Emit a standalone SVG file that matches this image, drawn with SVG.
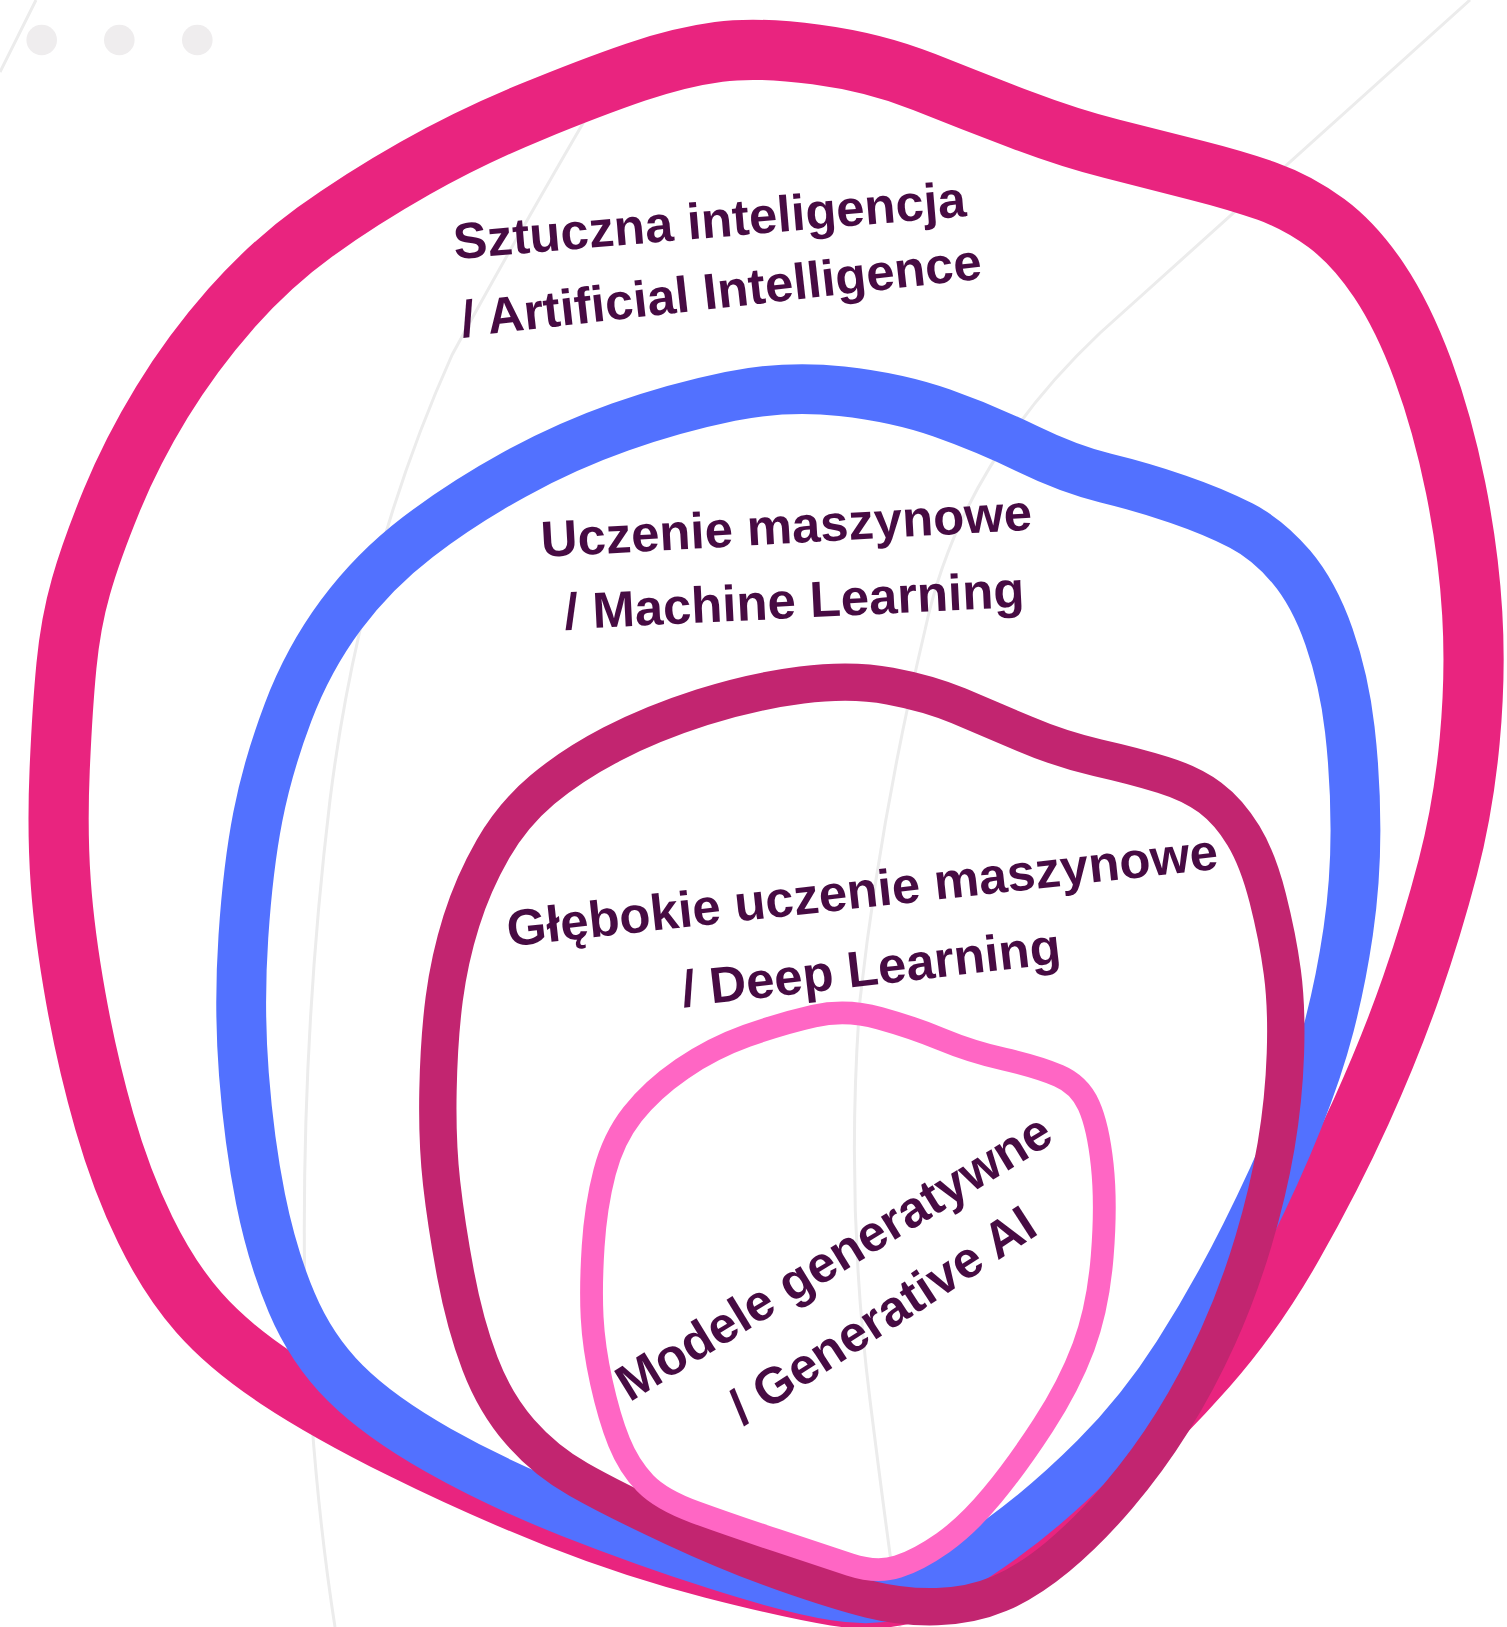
<svg xmlns="http://www.w3.org/2000/svg" width="1507" height="1627" viewBox="0 0 1507 1627">
<style>
.bg{fill:none;stroke:#ececec;stroke-width:3}
.dot{fill:#efedee}
.blob{fill:none;stroke-linejoin:round}
.ai{stroke:#e9247f;stroke-width:58}
.ml{stroke:#5271ff;stroke-width:48}
.dl{stroke:#c22570;stroke-width:36}
.gen{stroke:#ff66c4;stroke-width:22}
.lbl{font-family:"Liberation Sans",Arial,sans-serif;font-weight:700;font-size:49px;fill:#470b43;text-anchor:middle}
</style>
<rect width="1507" height="1627" fill="#ffffff"/>
<g id="background">
<path class="bg" d="M0,72 L36,0"/>
<path class="bg" d="M1470,0 L1100,333 Q960,465 925,630 Q880,820 860,1000 Q845,1200 870,1400 Q885,1520 900,1627"/>
<path class="bg" d="M620,60 Q520,230 452,355 Q360,560 330,800 Q300,1050 305,1300 Q312,1480 335,1627"/>
<circle class="dot" cx="41.7" cy="40" r="15.3"/>
<circle class="dot" cx="119.3" cy="40" r="15.3"/>
<circle class="dot" cx="197.3" cy="40" r="15.3"/>
</g>
<g transform="scale(1.037879)">
<g id="node-ai">
<path class="blob ai" d="M692.5,50 Q730,45 786.5,52.5 Q843,60 890.5,79 Q938,98 984,115.5 Q1030,133 1071.5,143.5 Q1113,154 1152.5,164 Q1192,174 1221.5,184.5 Q1251,195 1278,215 Q1305,235 1328.5,270 Q1352,305 1371,356.5 Q1390,408 1402.5,470 Q1415,532 1418.5,591 Q1422,650 1416,714 Q1410,778 1395,835.5 Q1380,893 1360,950.5 Q1340,1008 1311.5,1071 Q1283,1134 1245.5,1200 Q1208,1266 1163,1317 Q1118,1368 1070,1411.5 Q1022,1455 978.5,1485 Q935,1515 892.5,1530 Q850,1545 805,1537.5 Q760,1530 686,1511 Q612,1492 537,1462.5 Q462,1433 388.5,1396.5 Q315,1360 267.5,1328.5 Q220,1297 191.5,1264.5 Q163,1232 140,1185 Q117,1138 100.5,1080.5 Q84,1023 73,961.5 Q62,900 58.5,850 Q55,800 57.5,741.5 Q60,683 64,641.5 Q68,600 78,565 Q88,530 107.5,482.5 Q127,435 156,387.5 Q185,340 222.5,297.5 Q260,255 303.5,223.5 Q347,192 400,162 Q453,132 511.5,108 Q570,84 612.5,69.5 Q655,55 692.5,50 Z"/>
<text class="lbl" transform="translate(685,229) rotate(-4.8)">Sztuczna inteligencja</text>
<text class="lbl" transform="translate(696.5,296.5) rotate(-6.4)">/ Artificial Intelligence</text>
</g>
<g id="node-ml">
<path class="blob ml" d="M703.5,382 Q757,371 811,377 Q865,383 907.5,398 Q950,413 990,432.5 Q1030,452 1065,460.5 Q1100,469 1135,481 Q1170,493 1196,506.5 Q1222,520 1244,546 Q1266,572 1280.5,613.5 Q1295,655 1300.5,702.5 Q1306,750 1306,800 Q1306,850 1299,897.5 Q1292,945 1281,987.5 Q1270,1030 1250,1080 Q1230,1130 1200,1190 Q1170,1250 1135,1305 Q1100,1360 1055,1405 Q1010,1450 965,1482.5 Q920,1515 885,1530 Q850,1545 805,1537.5 Q760,1530 690,1507.5 Q620,1485 550,1457.5 Q480,1430 422.5,1397.5 Q365,1365 332.5,1332.5 Q300,1300 281,1255 Q262,1210 251,1155 Q240,1100 235,1035 Q230,970 234.5,902.5 Q239,835 248.5,786.5 Q258,738 277.5,686.5 Q297,635 328.5,592.5 Q360,550 402.5,517.5 Q445,485 495,457.5 Q545,430 597.5,411.5 Q650,393 703.5,382 Z"/>
<text class="lbl" transform="translate(758.5,523.5) rotate(-3.2)">Uczenie maszynowe</text>
<text class="lbl" transform="translate(766,595.5) rotate(-2.8)">/ Machine Learning</text>
</g>
<g id="node-dl">
<path class="blob dl" d="M772.5,660 Q820,654 857.5,661 Q895,668 923.5,680 Q952,692 987,707 Q1022,722 1057.5,730 Q1093,738 1120.5,746.5 Q1148,755 1166,768.5 Q1184,782 1198,805 Q1212,828 1221.5,865.5 Q1231,903 1235.5,936.5 Q1240,970 1238.5,1015 Q1237,1060 1229.5,1104 Q1222,1148 1207.5,1196.5 Q1193,1245 1173.5,1288 Q1154,1331 1130,1369.5 Q1106,1408 1077,1442 Q1048,1476 1019,1500 Q990,1524 963,1535.5 Q936,1547 903,1548 Q870,1549 838,1541 Q806,1533 756,1515.5 Q706,1498 648,1471 Q590,1444 557.5,1425.5 Q525,1407 501,1379.5 Q477,1352 462.5,1314 Q448,1276 439,1228 Q430,1180 425.5,1140 Q421,1100 422,1050.5 Q423,1001 428,962.5 Q433,924 444.5,887.5 Q456,851 475,818 Q494,785 522.5,761 Q551,737 589.5,717 Q628,697 676.5,681.5 Q725,666 772.5,660 Z"/>
<text class="lbl" transform="translate(832.5,874.5) rotate(-6.25)">Głębokie uczenie maszynowe</text>
<text class="lbl" transform="translate(841,949) rotate(-6.6)">/ Deep Learning</text>
</g>
<g id="node-gen">
<path class="blob gen" d="M784,979 Q815,972 847.5,981 Q880,990 907.5,1001.5 Q935,1013 967.5,1020.5 Q1000,1028 1020,1036.5 Q1040,1045 1049,1065 Q1058,1085 1062,1122.5 Q1066,1160 1062,1210 Q1058,1260 1044,1297.5 Q1030,1335 1005,1373.5 Q980,1412 956,1441 Q932,1470 908.5,1486.5 Q885,1503 865,1509.5 Q845,1516 819,1507.5 Q793,1499 748,1484 Q703,1469 670,1457 Q637,1445 621.5,1429 Q606,1413 596.5,1389.5 Q587,1366 579.5,1332 Q572,1298 570.5,1269 Q569,1240 571.5,1201 Q574,1162 582.5,1129.5 Q591,1097 609.5,1073.5 Q628,1050 657,1030 Q686,1010 719.5,998 Q753,986 784,979 Z"/>
<text class="lbl" transform="translate(812,1225.4) rotate(-31.5)">Modele generatywne</text>
<text class="lbl" transform="translate(859,1281) rotate(-33)">/ Generative AI</text>
</g>
</g>
</svg>
